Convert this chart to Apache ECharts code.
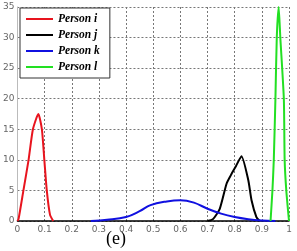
<!DOCTYPE html>
<html>
<head>
<meta charset="utf-8">
<script src="https://cdn.jsdelivr.net/npm/echarts@6/dist/echarts.min.js"></script>
<style>
  html, body { margin: 0; padding: 0; background: #fff; }
  #chart { width: 297px; height: 251px; }
</style>
</head>
<body>
<div id="chart"></div>
<script>
// values
var names = ['Person i', 'Person j', 'Person k', 'Person l'];
var colors = ['#e8141e', '#000000', '#1010e0', '#22e022'];

var xI = [0, 0.004, 0.022, 0.041, 0.057, 0.077, 0.09, 0.099, 0.108, 0.12, 0.132];
var yI = [0, 0.3, 5, 10, 15, 17.5, 15, 10, 5, 1, 0];

var xJ = [0.7, 0.72, 0.745, 0.77, 0.786, 0.805, 0.825, 0.85, 0.862, 0.88, 0.892];
var yJ = [0, 0.3, 2.0, 6.1, 7.5, 9.0, 10.6, 6.7, 3.4, 0.65, 0];

var xK = [0.27, 0.33, 0.4, 0.45, 0.49, 0.55, 0.6, 0.65, 0.7, 0.75, 0.8, 0.85, 0.9, 0.95];
var yK = [0, 0.2, 0.65, 1.6, 2.6, 3.2, 3.4, 3.0, 2.0, 1.2, 0.65, 0.3, 0.1, 0];

var xL = [0.932, 0.939, 0.944, 0.95, 0.955, 0.962, 0.968, 0.981, 0.984, 0.99, 1.0];
var yL = [0, 5, 10, 20, 30, 35, 30, 20, 10, 5, 0];

var xTicks = [0, 0.1, 0.2, 0.3, 0.4, 0.5, 0.6, 0.7, 0.8, 0.9, 1];

function pairs(xs, ys) {
  return xs.map(function (x, i) { return [x, ys[i]]; });
}

var chart = echarts.init(document.getElementById('chart'));
chart.setOption({
  animation: false,
  grid: { left: 17, right: 8, top: 7, bottom: 30 },
  xAxis: {
    type: 'value', min: 0, max: 1, interval: 0.1,
    axisLine: { show: true, lineStyle: { color: '#000', width: 1.5 } },
    axisTick: { show: false },
    axisLabel: { color: '#666', fontSize: 9, margin: 4, fontFamily: 'DejaVu Sans',
      formatter: function (v) { return xTicks.indexOf(+v.toFixed(1)) >= 0 ? String(+v.toFixed(1)) : ''; } },
    splitLine: { show: true, lineStyle: { color: '#777', type: [2, 2], width: 1 } }
  },
  yAxis: {
    type: 'value', min: 0, max: 35, interval: 5,
    axisLine: { show: true, lineStyle: { color: '#bbb', width: 1 } },
    axisTick: { show: false },
    axisLabel: { color: '#666', fontSize: 9, margin: 3, fontFamily: 'DejaVu Sans' },
    splitLine: { show: true, lineStyle: { color: '#777', type: [2, 2], width: 1 } }
  },
  legend: {
    data: names,
    orient: 'vertical',
    left: 20, top: 8,
    padding: [5, 10, 5, 6],
    itemGap: 4,
    itemWidth: 27, itemHeight: 2,
    icon: 'rect',
    backgroundColor: '#fff',
    borderColor: '#333', borderWidth: 1,
    textStyle: { fontFamily: 'Liberation Serif', fontStyle: 'italic', fontWeight: 'bold', fontSize: 11.5, color: '#000' }
  },
  graphic: [{
    type: 'text', left: 106, top: 230,
    style: { text: '(e)', font: '18px "Liberation Serif"', fill: '#000' }
  }],
  series: names.map(function (n, i) {
    var xs = [xI, xJ, xK, xL][i], ys = [yI, yJ, yK, yL][i];
    return {
      name: n, type: 'line', smooth: i === 2 ? 0.4 : 0.2, showSymbol: false,
      data: pairs(xs, ys),
      lineStyle: { color: colors[i], width: 2 },
      itemStyle: { color: colors[i] },
      z: 3
    };
  })
});
</script>
</body>
</html>
